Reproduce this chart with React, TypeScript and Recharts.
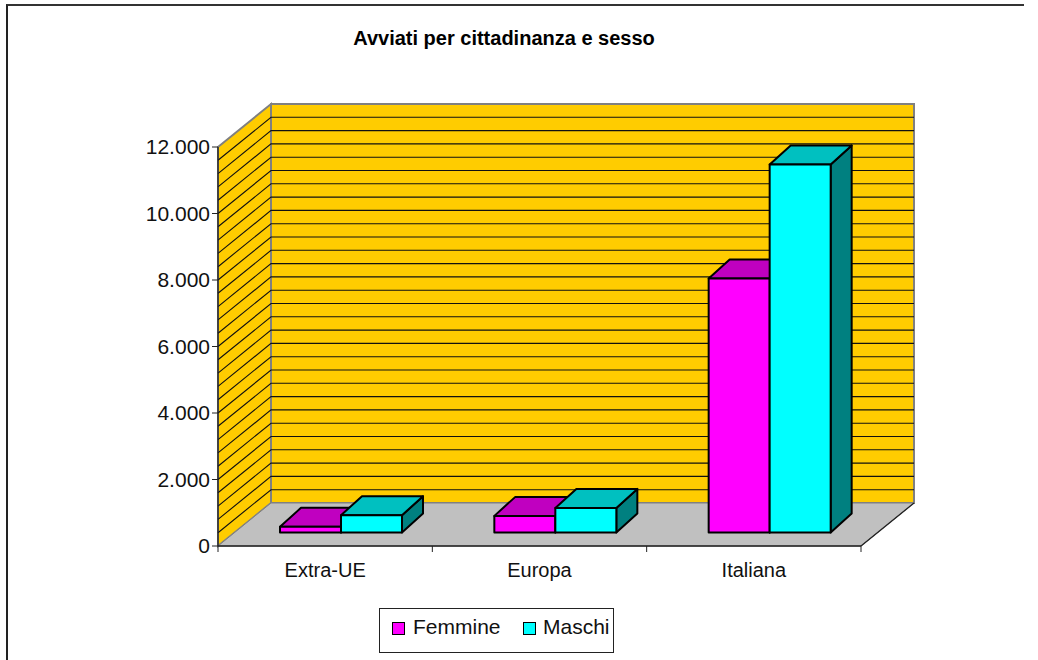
import React from "react";
import {
  BarChart,
  Bar,
  XAxis,
  YAxis,
  Legend,
  ReferenceArea,
  ReferenceLine,
} from "recharts";

const categories = ["Extra-UE", "Europa", "Italiana"];
const femmine = [170, 500, 7640];
const maschi = [520, 740, 11070];
const yTicks = [0, 2000, 4000, 6000, 8000, 10000, 12000];
const gridValues = [
  400, 800, 1200, 1600, 2000, 2400, 2800, 3200, 3600, 4000, 4400, 4800, 5200, 5600, 6000,
  6400, 6800, 7200, 7600, 8000, 8400, 8800, 9200, 9600, 10000, 10400, 10800, 11200, 11600,
];

const data = categories.map((name, i) => ({
  name,
  Femmine: femmine[i],
  Maschi: maschi[i],
}));

const FONT = "'Liberation Sans', Arial, sans-serif";
const WALL_DX = 53;
const WALL_DY = -43;
const BAR_DX = 16;
const BAR_DY = -13.5;
const DEPTH_X = 21;
const DEPTH_Y = -19;

const pts = (list: number[][]) => list.map((p) => p.join(",")).join(" ");

// back wall, side wall and floor, sized from the value axis area
const Walls = ({ x, y, width, height }: any) => {
  const bottom = y + height;
  return (
    <g>
      <polygon
        points={pts([
          [x + WALL_DX, y + WALL_DY],
          [x + width + WALL_DX, y + WALL_DY],
          [x + width + WALL_DX, bottom + WALL_DY],
          [x + WALL_DX, bottom + WALL_DY],
        ])}
        fill="#FFCC00"
        stroke="#808080"
        strokeWidth={2}
      />
      <polygon
        points={pts([
          [x, y],
          [x + WALL_DX, y + WALL_DY],
          [x + WALL_DX, bottom + WALL_DY],
          [x, bottom],
        ])}
        fill="#FFCC00"
        stroke="#808080"
        strokeWidth={2}
      />
      <polygon
        points={pts([
          [x, bottom],
          [x + WALL_DX, bottom + WALL_DY],
          [x + width + WALL_DX, bottom + WALL_DY],
          [x + width, bottom],
        ])}
        fill="#C0C0C0"
        stroke="#808080"
        strokeWidth={1}
      />
      <line
        x1={x + width}
        y1={bottom}
        x2={x + width + WALL_DX}
        y2={bottom + WALL_DY}
        stroke="#222"
        strokeWidth={1.3}
      />
    </g>
  );
};

const WallLine = ({ x1, y1, x2, y2 }: any) => (
  <polyline
    points={pts([
      [x1, y1],
      [x1 + WALL_DX, y1 + WALL_DY],
      [x2 + WALL_DX, y2 + WALL_DY],
    ])}
    fill="none"
    stroke="#111"
    strokeWidth={1.1}
  />
);

const Box3D = ({ x, y, width, height, front, top, side }: any) => {
  const l = x + BAR_DX;
  const r = l + width;
  const t = y + BAR_DY;
  const b = t + height;
  return (
    <g stroke="#000" strokeWidth={2} strokeLinejoin="round">
      <polygon
        points={pts([
          [r, t],
          [r + DEPTH_X, t + DEPTH_Y],
          [r + DEPTH_X, b + DEPTH_Y],
          [r, b],
        ])}
        fill={side}
      />
      <polygon
        points={pts([
          [l, t],
          [l + DEPTH_X, t + DEPTH_Y],
          [r + DEPTH_X, t + DEPTH_Y],
          [r, t],
        ])}
        fill={top}
      />
      <rect x={l} y={t} width={width} height={height} fill={front} />
    </g>
  );
};

const CategoryTick = ({ x, y, payload, index }: any) => {
  const half = payload.offset ?? 107.17;
  return (
    <g>
      <line x1={x - half} y1={y - 8} x2={x - half} y2={y - 2} stroke="#222" />
      {index === categories.length - 1 && (
        <line x1={x + half} y1={y - 8} x2={x + half} y2={y - 2} stroke="#222" />
      )}
      <text x={x} y={y + 23} textAnchor="middle" fontSize={20} fontFamily={FONT} fill="#111">
        {payload.value}
      </text>
    </g>
  );
};

const LegendBox = () => (
  <div
    style={{
      width: 233,
      height: 43,
      border: "1px solid #222",
      fontFamily: FONT,
      fontSize: 21,
      color: "#111",
      position: "relative",
      background: "#fff",
    }}
  >
    {[
      { name: "Femmine", color: "#FF00FF", icon: 12, text: 33 },
      { name: "Maschi", color: "#00FFFF", icon: 143, text: 163 },
    ].map((d) => (
      <React.Fragment key={d.name}>
        <span
          style={{
            position: "absolute",
            left: d.icon,
            top: 13,
            width: 11,
            height: 11,
            background: d.color,
            border: "1.5px solid #000",
          }}
        />
        <span style={{ position: "absolute", left: d.text, top: 6, lineHeight: "23px" }}>{d.name}</span>
      </React.Fragment>
    ))}
  </div>
);

export default function App() {
  return (
    <div style={{ position: "absolute", left: 0, top: 0, width: 1038, height: 660, background: "#fff" }}>
      <div
        style={{
          position: "absolute",
          left: 6,
          top: 4,
          width: 1018,
          height: 656,
          boxSizing: "border-box",
          borderTop: "2px solid #333",
          borderLeft: "2px solid #222",
        }}
      />
      <BarChart
        width={1038}
        height={660}
        data={data}
        margin={{ top: 147, right: 177, bottom: 0, left: 0 }}
        barSize={61}
        barGap={0}
        style={{ position: "absolute", left: 0, top: 0 }}
      >
        <XAxis
          dataKey="name"
          height={114}
          tickLine={false}
          axisLine={{ stroke: "#222", strokeWidth: 1.3 }}
          tick={<CategoryTick />}
          interval={0}
        />
        <YAxis
          width={218}
          domain={[0, 12000]}
          ticks={yTicks}
          tickFormatter={(v: number) => v.toLocaleString("it-IT", { useGrouping: "always" } as any)}
          tick={{ fontSize: 21, fontFamily: FONT, fill: "#111" }}
          tickLine={{ stroke: "#222" }}
          tickSize={6}
          axisLine={{ stroke: "#222", strokeWidth: 1.3 }}
        />
        <ReferenceArea y1={0} y2={12000} shape={<Walls />} zIndex={50} />
        {gridValues.map((v) => (
          <ReferenceLine key={v} y={v} shape={<WallLine />} zIndex={60} />
        ))}
        <Bar
          dataKey="Femmine"
          isAnimationActive={false}
          fill="#FF00FF"
          shape={<Box3D front="#FF00FF" top="#C000C0" side="#800080" />}
        />
        <Bar
          dataKey="Maschi"
          isAnimationActive={false}
          fill="#00FFFF"
          shape={<Box3D front="#00FFFF" top="#00C0C0" side="#008080" />}
        />
        <Legend
          content={<LegendBox />}
          layout="horizontal"
          verticalAlign="middle"
          align="center"
          wrapperStyle={{ left: 379, top: 608, width: 235 }}
        />
        <text x={504} y={45} textAnchor="middle" fontSize={20} fontWeight="bold" fontFamily={FONT} fill="#000">
          Avviati per cittadinanza e sesso
        </text>
      </BarChart>
    </div>
  );
}
